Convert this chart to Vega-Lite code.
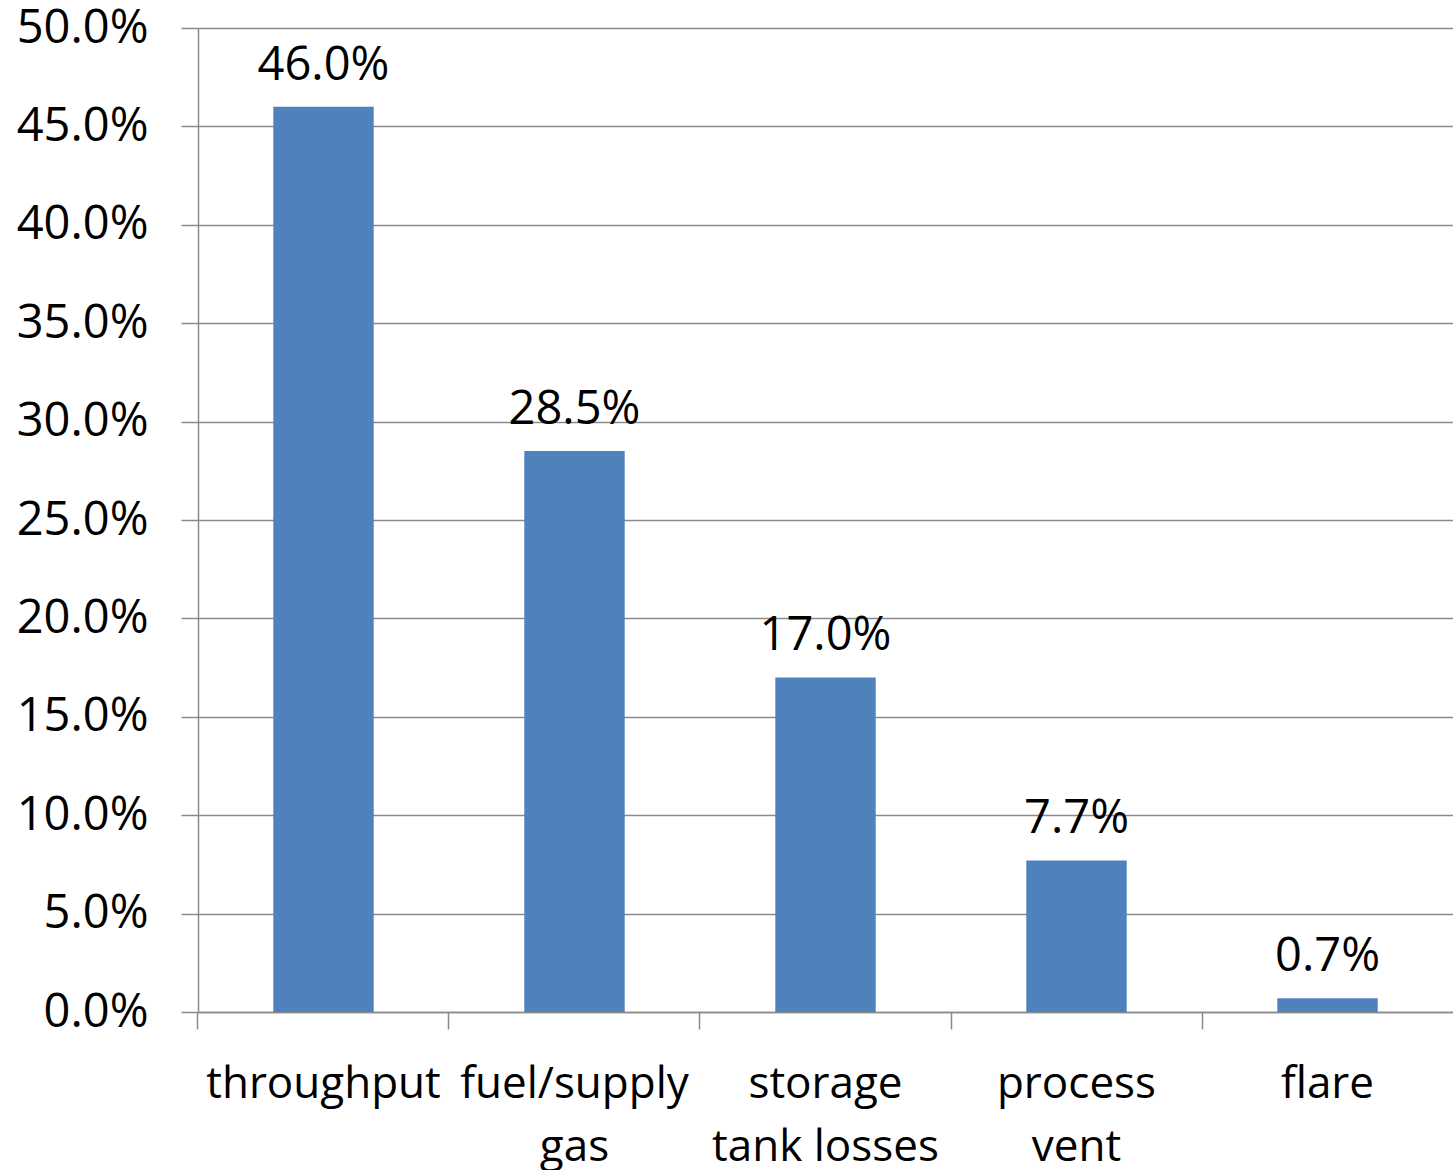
{
  "$schema": "https://vega.github.io/schema/vega-lite/v6.json",
  "autosize": {"type": "none"},
  "padding": {"left": 198, "top": 28, "right": 0, "bottom": 158},
  "width": 1255,
  "height": 984,
  "background": "white",
  "config": {
    "view": {"stroke": null},
    "font": "Open Sans",
    "axis": {
      "labelFont": "Open Sans",
      "labelFontSize": 47,
      "labelColor": "#000000",
      "labelLimit": 0,
      "domainColor": "#8a8a8a",
      "domainWidth": 1.5,
      "tickColor": "#8a8a8a",
      "tickWidth": 1.5,
      "tickSize": 17,
      "gridColor": "#8a8a8a",
      "gridWidth": 1.5,
      "title": null
    }
  },
  "data": {
    "values": [
      {"source": "throughput", "share": 0.46},
      {"source": "fuel/supply gas", "share": 0.285},
      {"source": "storage tank losses", "share": 0.17},
      {"source": "process vent", "share": 0.077},
      {"source": "flare", "share": 0.007}
    ]
  },
  "encoding": {
    "x": {
      "field": "source",
      "type": "nominal",
      "sort": null,
      "scale": {"paddingInner": 0.6, "paddingOuter": 0.3},
      "axis": {
        "labelAngle": 0,
        "labelFontSize": 44,
        "bandPosition": -0.75,
        "labelPadding": 33,
        "labelLineHeight": 63,
        "labelExpr": "indexof(datum.label, ' ') > 0 ? [slice(datum.label, 0, indexof(datum.label, ' ')), slice(datum.label, indexof(datum.label, ' ') + 1)] : datum.label",
        "grid": false,
        "labelOverlap": false
      }
    },
    "y": {
      "field": "share",
      "type": "quantitative",
      "scale": {"domain": [0, 0.5], "nice": false},
      "axis": {
        "format": ".1%",
        "values": [0, 0.05, 0.1, 0.15, 0.2, 0.25, 0.3, 0.35, 0.4, 0.45, 0.5],
        "labelPadding": 33,
        "grid": true,
        "labelFlush": false,
        "labelOverlap": false
      }
    }
  },
  "layer": [
    {"mark": {"type": "bar", "color": "#4F81BD"}},
    {
      "mark": {"type": "text", "baseline": "alphabetic", "dy": -27, "fontSize": 47, "font": "Open Sans", "color": "#000000"},
      "encoding": {"text": {"field": "share", "type": "quantitative", "format": ".1%"}}
    }
  ]
}
